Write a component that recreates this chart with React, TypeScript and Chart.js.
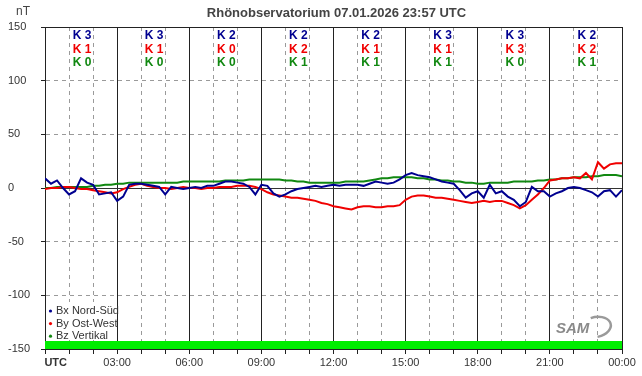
import React, { useEffect, useRef } from "react";
import { Chart, registerables } from "chart.js";
Chart.register(...registerables);

const STEP = 0.25; // hours between samples
const bx = [
  9, 4, 7, 0, -6, -3, 9, 5, 3, -6, -5, -4, -12, -8, 3, 4, 4, 3, 2, 1, -6, 1, 0, -1,
  0, 1, 0, 2, 2, 4, 6, 6, 5, 4, 1, -6, 3, 2, -5, -8, -6, -3, -1, 0, 1, 2, 1, 2,
  3, 2, 3, 3, 3, 2, 4, 6, 5, 4, 5, 8, 12, 14, 12, 11, 10, 8, 6, 5, 4, -2, -9, -5,
  -3, -9, 3, -5, -3, -8, -11, -17, -13, 1, -3, -3, -8, -5, -3, 0, 1, 0, -2, -4, -8, -3, -2, -8,
  -2,
];
const by = [
  -1, 0, 0, 1, 1, 0, -1, -1, -2, -3, -4, -5, -4, -1, 1, 3, 4, 2, 1, 0, 0, -1, 0, 1,
  0, 0, -1, 0, 0, 1, 1, 1, 2, 2, 2, 1, -1, -4, -6, -7, -8, -9, -9, -10, -11, -12, -14, -15,
  -17, -18, -19, -20, -18, -17, -17, -18, -18, -17, -17, -16, -11, -8, -7, -7, -8, -9, -9, -10, -11, -12, -13, -14,
  -13, -12, -13, -12, -12, -14, -16, -19, -16, -11, -6, 0, 7, 8, 9, 9, 10, 9, 14, 8, 24, 18, 22, 23,
  23,
];
const bz = [
  0, 0, 1, 1, 1, 1, 1, 1, 2, 2, 3, 3, 4, 4, 5, 5, 5, 5, 5, 5, 5, 5, 5, 6,
  6, 6, 6, 6, 6, 6, 7, 7, 7, 7, 8, 8, 8, 8, 8, 8, 7, 7, 6, 6, 5, 5, 5, 5,
  5, 5, 6, 6, 6, 6, 7, 8, 9, 9, 10, 10, 10, 10, 9, 9, 8, 8, 7, 7, 6, 6, 5, 5,
  4, 4, 5, 5, 5, 5, 6, 6, 6, 6, 7, 7, 8, 8, 9, 9, 10, 10, 10, 11, 11, 12, 12, 12,
  11,
];
const statusBarTop = -142.5; // green status band top value
const kBx = [3, 3, 2, 2, 2, 3, 3, 2];
const kBy = [1, 1, 0, 2, 1, 1, 3, 2];
const kBz = [0, 0, 0, 1, 1, 1, 0, 1];
const xTickLabels = ["UTC", "03:00", "06:00", "09:00", "12:00", "15:00", "18:00", "21:00", "00:00"];
const legendLabels = ["Bx Nord-Süd", "By Ost-West", "Bz Vertikal"];
const title = "Rhönobservatorium 07.01.2026 23:57 UTC";

const FONT = '"Liberation Sans", Arial, sans-serif';
const C_BX = "#000090";
const C_BY = "#f00000";
const C_BZ = "#118811";

const toXY = (arr: number[]) => arr.map((v, i) => ({ x: i * STEP, y: v }));

const overlay = {
  id: "overlay",
  afterDraw(chart: any) {
    const { ctx, chartArea, scales } = chart;
    const xs = scales.x;
    ctx.save();
    // title
    ctx.fillStyle = "#444";
    ctx.font = `bold 13px ${FONT}`;
    ctx.textAlign = "center";
    ctx.textBaseline = "middle";
    ctx.fillText(title, (chartArea.left + chartArea.right) / 2 + 3, 13);
    // unit
    ctx.font = `12px ${FONT}`;
    ctx.textAlign = "left";
    ctx.fillText("nT", 16, 12);
    // K indices
    ctx.font = `bold 12px ${FONT}`;
    ctx.textAlign = "center";
    const rows = [
      { v: kBx, c: C_BX, y: 36 },
      { v: kBy, c: C_BY, y: 49.5 },
      { v: kBz, c: C_BZ, y: 63 },
    ];
    for (let i = 0; i < kBx.length; i++) {
      const cx = xs.getPixelForValue(i * 3 + 1.5) + 1;
      for (const r of rows) {
        ctx.fillStyle = r.c;
        ctx.fillText("K " + r.v[i], cx, r.y);
      }
    }
    // legend (white box hides the dashed grid behind it)
    const left = chartArea.left + 1;
    ctx.fillStyle = "#fff";
    ctx.fillRect(left, 302, xs.getPixelForValue(3) - left - 0.5, 38);
    const cols = [C_BX, C_BY, C_BZ];
    ctx.font = `11px ${FONT}`;
    ctx.textAlign = "left";
    legendLabels.forEach((t, i) => {
      const y = 310.5 + i * 12.6;
      ctx.fillStyle = cols[i];
      ctx.beginPath();
      ctx.arc(50.5, y + 0.5, 1.6, 0, Math.PI * 2);
      ctx.fill();
      ctx.fillStyle = "#333";
      ctx.fillText(t, 56, y + 0.5);
    });
    // logo
    ctx.fillStyle = "#8a8a8a";
    ctx.font = `italic bold 15px ${FONT}`;
    ctx.fillText("SAM", 556, 329);
    ctx.strokeStyle = "#9a9a9a";
    ctx.lineWidth = 2.5;
    ctx.beginPath();
    ctx.ellipse(596, 327, 15, 10, -0.2, -1.8, 1.6);
    ctx.stroke();
    ctx.restore();
  },
};

export default function App() {
  const ref = useRef<HTMLCanvasElement>(null);
  useEffect(() => {
    document.body.style.margin = "0";
    const canvas = ref.current!;
    const chart = new Chart(canvas, {
      type: "line",
      data: {
        datasets: [
          { data: toXY(bx), borderColor: C_BX, borderWidth: 2, pointRadius: 0, tension: 0 },
          { data: toXY(by), borderColor: C_BY, borderWidth: 2, pointRadius: 0, tension: 0 },
          { data: toXY(bz), borderColor: C_BZ, borderWidth: 2, pointRadius: 0, tension: 0 },
          {
            data: [{ x: 0, y: statusBarTop }, { x: 24, y: statusBarTop }],
            borderWidth: 0,
            borderColor: "rgba(0,0,0,0)",
            backgroundColor: "#00ee00",
            fill: "start",
            pointRadius: 0,
          },
        ],
      },
      options: {
        responsive: false,
        animation: false,
        layout: { padding: { top: 27, left: 8, right: 20, bottom: 0 } },
        plugins: { legend: { display: false }, tooltip: { enabled: false }, title: { display: false } },
        scales: {
          x: {
            type: "linear",
            min: 0,
            max: 24,
            afterFit: (s: any) => { s.height = 27; },
            ticks: {
              stepSize: 1,
              autoSkip: false,
              maxRotation: 0,
              padding: 2,
              color: "#333",
              font: (c: any) => ({ family: FONT, size: 11, weight: c.tick && c.tick.value === 0 ? "bold" : "normal" }),
              callback: (v: any) => {
                const n = Number(v);
                if (n % 3 !== 0) return "";
                const lab = xTickLabels[n / 3];
                return n === 0 ? "       " + lab : lab;
              },
            },
            grid: {
              color: (c: any) => (c.tick && c.tick.value % 3 === 0 ? "#222" : "#9a9a9a"),
              lineWidth: 1,
              tickLength: 5,
              tickColor: "#222",
              tickBorderDash: [],
            },
            border: {
              color: "#222",
              dash: (c: any) => (c.tick && c.tick.value % 3 !== 0 ? [4, 4] : []),
            },
          },
          y: {
            min: -150,
            max: 150,
            afterFit: (s: any) => { s.width = 37; },
            ticks: {
              stepSize: 50,
              crossAlign: "far",
              padding: 4,
              color: "#333",
              font: { family: FONT, size: 11 },
            },
            grid: {
              color: (c: any) => {
                const v = c.tick ? c.tick.value : 1;
                if (v === 0) return "#333";
                if (v === 150 || v === -150) return "#222";
                return "#9a9a9a";
              },
              lineWidth: 1,
              tickLength: 4,
              tickColor: "#222",
              tickBorderDash: [],
            },
            border: {
              color: "#222",
              dash: (c: any) => {
                if (!c.tick) return [];
                const v = c.tick.value;
                return v === 0 || v === 150 || v === -150 ? [] : [4, 4];
              },
            },
          },
        },
      },
      plugins: [overlay],
    } as any);
    return () => chart.destroy();
  }, []);
  return <canvas ref={ref} width={642} height={376} style={{ display: "block" }} />;
}
